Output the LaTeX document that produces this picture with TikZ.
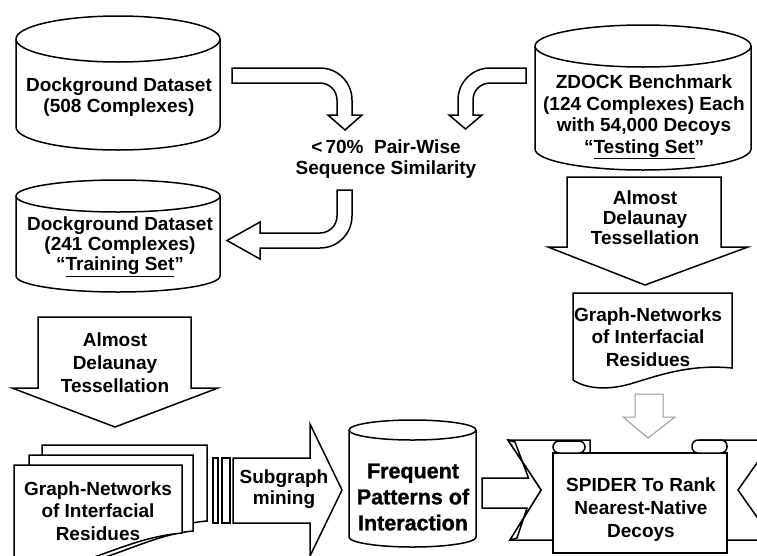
\documentclass[tikz,border=0pt]{standalone}
\usepackage{fontspec}
\setmainfont{Liberation Sans}
\newfontfamily\heavyfont[FakeBold=1.2]{Liberation Sans Bold}
\newcommand\drawcyl[5]{%
  \pgfmathsetmacro\cyCX{(#1+#2)/2}%
  \pgfmathsetmacro\cyRX{(#2-#1)/2}%
  \pgfmathsetmacro\cyKX{0.5523*\cyRX}%
  \pgfmathsetmacro\cyKY{0.5523*#5}%
  \pgfmathsetmacro\cyT{#3+#5}%
  \pgfmathsetmacro\cyB{#4-#5}%
  \draw[ln,fill=white] (#1,\cyT) -- (#1,\cyB)
    .. controls (#1,\cyB+\cyKY) and (\cyCX-\cyKX,#4) .. (\cyCX,#4)
    .. controls (\cyCX+\cyKX,#4) and (#2,\cyB+\cyKY) .. (#2,\cyB)
    -- (#2,\cyT)
    .. controls (#2,\cyT-\cyKY) and (\cyCX+\cyKX,#3) .. (\cyCX,#3)
    .. controls (\cyCX-\cyKX,#3) and (#1,\cyT-\cyKY) .. (#1,\cyT) -- cycle;
  \draw[ln] (#1,\cyT)
    .. controls (#1,\cyT+\cyKY) and (\cyCX-\cyKX,\cyT+#5) .. (\cyCX,\cyT+#5)
    .. controls (\cyCX+\cyKX,\cyT+#5) and (#2,\cyT+\cyKY) .. (#2,\cyT);
}
\begin{document}
\begin{tikzpicture}[x=1pt,y=-1pt,line join=miter,
  ln/.style={line width=1.5pt,draw=black},
  tx/.style={align=center,inner sep=0pt,font=\bfseries\fontsize{19}{21.5}\selectfont},
  grayarrow/.style={draw=black!40,line width=1pt,fill=white}]
\useasboundingbox (0,0) rectangle (757,555);
\clip (0,0) rectangle (757,555);

% cylinders
\drawcyl{16}{220}{16}{150}{23}
\drawcyl{16}{220}{180}{292}{16}
\drawcyl{535}{751}{25}{170}{21}
\drawcyl{349}{476}{420}{547}{10}

% bent arrows
\draw[ln,fill=white] (232,68) -- (320,68) .. controls (337.7,68) and (352,82.3) .. (352,100)
  -- (352,115) -- (362,115) -- (345,130) -- (328,115) -- (337,115) -- (337,100)
  .. controls (337,90.6) and (329.4,83) .. (320,83) -- (232,83) -- cycle;
\draw[ln,fill=white] (526,68) -- (490,68) .. controls (472.3,68) and (458,82.3) .. (458,100)
  -- (458,115) -- (449,115) -- (465.5,129) -- (482,115) -- (473,115) -- (473,100)
  .. controls (473,90.6) and (480.6,83) .. (490,83) -- (526,83) -- cycle;
\draw[ln,fill=white] (337,190) -- (352,190) -- (352,216) .. controls (352,233.7) and (337.7,248) .. (320,248)
  -- (260,248) -- (260,259) -- (227,240.5) -- (260,222) -- (260,233) -- (320,233)
  .. controls (329.4,233) and (337,225.4) .. (337,216) -- cycle;

% big down arrows
\draw[ln,fill=white] (567,177) -- (721,177) -- (721,247) -- (748,247) -- (645,285) -- (548,247) -- (567,247) -- cycle;
\draw[ln,fill=white] (38,317) -- (191,317) -- (191,388) -- (218,388) -- (115,427) -- (12,388) -- (38,388) -- cycle;

% right document
\draw[ln,fill=white] (573,293) -- (732,293) -- (732,368)
  .. controls (690,364) and (660,375) .. (630,384)
  .. controls (605,391) and (585,388) .. (573,380) -- cycle;

% gray arrow
\draw[grayarrow] (635,394) -- (663,394) -- (663,417) -- (675,417) -- (648,438) -- (623,417) -- (635,417) -- cycle;

% left document stack
\draw[ln,fill=white] (42,445) -- (207,445) -- (207,521) .. controls (170,524) and (140,540) .. (100,552) -- (42,565) -- cycle;
\draw[ln,fill=white] (29,455) -- (193,455) -- (193,531) .. controls (160,534) and (130,550) .. (90,562) -- (29,575) -- cycle;
\draw[ln,fill=white] (14,465) -- (182,465) -- (182,533) .. controls (150,536) and (125,546) .. (100,555)
  .. controls (70,566) and (40,570) .. (14,568) -- cycle;

% striped arrow
\draw[ln,fill=white] (213,458) rectangle (218,523);
\draw[ln,fill=white] (222,458) rectangle (230,523);
\draw[ln,fill=white] (233,458) -- (310,458) -- (310,424) -- (342,490) -- (310,556) -- (310,523) -- (233,523) -- cycle;

% banner
\draw[ln,fill=white] (508,440) -- (590,440) -- (590,540) -- (510,540) -- (541,490) -- cycle;
\draw[ln,fill=white] (700,440) -- (773,440) -- (738,490) -- (773,540) -- (700,540) -- cycle;
\draw[ln,fill=white] (482,478) -- (528.5,478) -- (515,442) -- (508,440) -- (541,490) -- (510,540)
  -- (517,538) -- (527,508) -- (482,508) -- cycle;
\draw[ln,fill=white] (553,453) rectangle (727,553);
\draw[ln,fill=white,rounded corners=6pt] (553,441) rectangle (585,453);
\draw[ln,fill=white,rounded corners=6pt] (692,440) rectangle (727,453);

% texts
\node[tx] (d508) at (119,97) {Dockground Dataset\\(508 Complexes)};
\node[tx] (zdock) at (644,117) {ZDOCK Benchmark\\(124 Complexes) Each\\with 54,000 Decoys\\“\underline{Testing Set}”};
\node[tx] (sim) at (386,159) {<\,70\%\ \ Pair-Wise\\Sequence Similarity};
\node[tx,font=\bfseries\fontsize{19}{20}\selectfont] (d241) at (120,247) {Dockground Dataset\\(241 Complexes)\\“\underline{Training Set}”};
\node[tx,font=\bfseries\fontsize{19}{20}\selectfont] (adtR) at (645,218) {Almost\\Delaunay\\Tessellation};
\node[tx,font=\bfseries\fontsize{19}{22.5}\selectfont] (gnR) at (648,337) {Graph-Networks\\of Interfacial\\Residues};
\node[tx,font=\bfseries\fontsize{19}{23}\selectfont] (adtL) at (115,363) {Almost\\Delaunay\\Tessellation};
\node[tx,font=\bfseries\fontsize{19}{22.5}\selectfont] (gnL) at (98,511) {Graph-Networks\\of Interfacial\\Residues};
\node[tx] (sub) at (284,489) {Subgraph\\mining};
\node[tx,font=\heavyfont\fontsize{21.5}{26}\selectfont] (freq) at (413,497) {Frequent\\Patterns of\\Interaction};
\node[tx,font=\bfseries\fontsize{19}{23}\selectfont] (spider) at (641,510) {SPIDER To Rank\\Nearest-Native\\Decoys};
\end{tikzpicture}
\end{document}
